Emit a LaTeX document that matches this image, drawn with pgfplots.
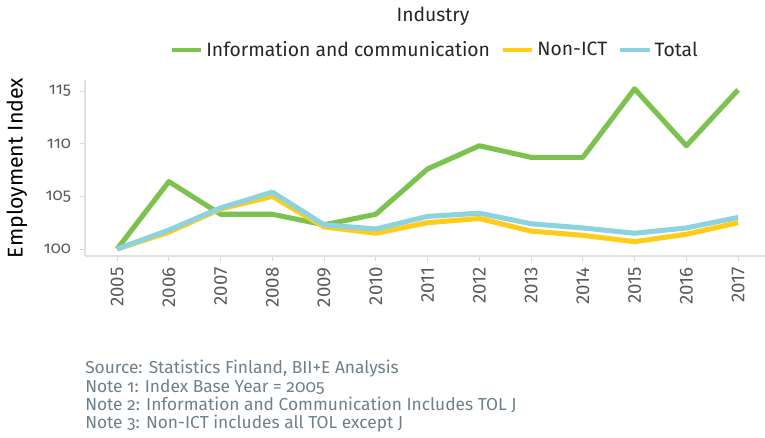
\documentclass[border=0pt]{standalone}
\usepackage{fontspec}
\setmainfont{Fira Sans}
\newfontfamily\onum{Fira Sans}[Numbers=OldStyle]
\usepackage{pgfplots}
\pgfplotsset{compat=1.18}
\definecolor{icgreen}{HTML}{7DC24E}
\definecolor{nonict}{HTML}{FFCC1A}
\definecolor{totalc}{HTML}{8DD3DF}
\definecolor{notegray}{HTML}{6F7F89}
\definecolor{tickgray}{HTML}{5A5A5A}
\pgfplotstableread{
year ict nonict total
2005 100.0 100.0 100.0
2006 106.4 101.6 101.8
2007 103.3 103.8 103.9
2008 103.3 105.0 105.4
2009 102.3 102.1 102.3
2010 103.3 101.5 101.9
2011 107.6 102.5 103.1
2012 109.8 102.9 103.4
2013 108.7 101.7 102.4
2014 108.7 101.3 102.0
2015 115.2 100.7 101.5
2016 109.8 101.4 102.0
2017 115.1 102.5 103.0
}\datatable
\begin{document}
\begin{tikzpicture}
\useasboundingbox (-63.75pt,-136.5pt) rectangle (510pt,192pt);
\begin{axis}[
  at={(0,0)}, anchor=south west,
  scale only axis, width=510pt, height=132pt,
  xmin=2004.38, xmax=2017.52, ymin=99.34, ymax=116.04,
  axis x line*=bottom, axis y line*=left,
  axis line style={draw=black!12, line width=0.8pt},
  xtick={2005,...,2017}, ytick={100,105,110,115},
  xticklabels={2005,2006,2007,2008,2009,2010,2011,2012,2013,2014,2015,2016,2017},
  yticklabels={100,105,110,115},
  tick align=outside, major tick length=4pt,
  tick style={draw=black!15, line width=0.6pt},
  x tick label style={rotate=90, anchor=east, font=\fontsize{14}{16}\selectfont, text=tickgray, xshift=-1pt},
  y tick label style={font=\onum\fontsize{12.5}{14}\selectfont, text=tickgray, xshift=-3pt},
  ylabel={Employment Index},
  ylabel style={font=\fontsize{16}{18}\selectfont, text=black, at={(axis description cs:0,0.5)}, anchor=center, yshift=51pt},
  legend columns=-1,
  legend style={at={(0.5,1)}, anchor=center, yshift=22.5pt, xshift=7.5pt, draw=none, fill=none,
    font=\fontsize{14.5}{16}\selectfont, text=black!85,
    /tikz/every even column/.append style={column sep=6pt}},
  legend image code/.code={\draw[#1, line width=3.5pt] (0pt,0pt) -- (22pt,0pt);},
  clip=false,
]
\addplot[icgreen, line width=3.8pt, line join=round] table[x=year, y=ict] {\datatable};
\addlegendentry{Information and communication}
\addplot[nonict, line width=3.8pt, line join=round] table[x=year, y=nonict] {\datatable};
\addlegendentry{Non-ICT}
\addplot[totalc, line width=3.8pt, line join=round] table[x=year, y=total] {\datatable};
\addlegendentry{Total}
\node[font=\fontsize{14.5}{16}\selectfont, text=black!85] at (rel axis cs:0.5,1) [yshift=47.5pt, xshift=6pt] {Industry};
\end{axis}
\node[anchor=north west, align=left, font=\onum\fontsize{13}{13.7}\selectfont, text=notegray, inner sep=0pt] at (0pt,-78pt) {Source: Statistics Finland, BII+E Analysis\\Note 1: Index Base Year = 2005\\Note 2: Information and Communication Includes TOL J\\Note 3: Non-ICT includes all TOL except J};
\end{tikzpicture}
\end{document}
